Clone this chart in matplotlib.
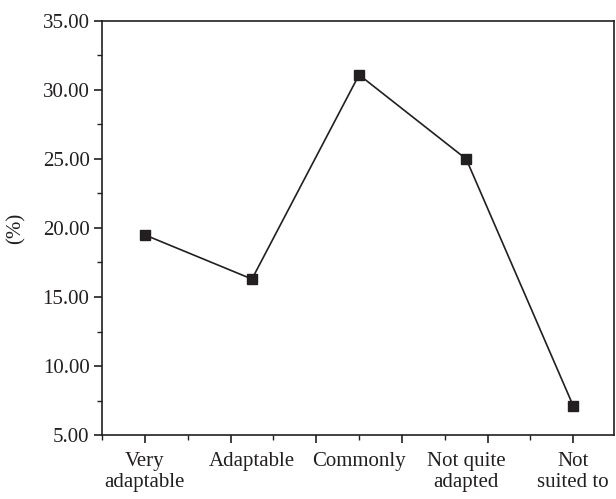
import matplotlib.pyplot as plt
from matplotlib.ticker import MultipleLocator, FormatStrFormatter
import matplotlib.transforms as mtransforms

categories = ['Very\nadaptable', 'Adaptable', 'Commonly', 'Not quite\nadapted', 'Not\nsuited to']
x_pos = [0, 1, 2, 3, 4]
percent = [19.5, 16.3, 31.1, 25.0, 7.1]

plt.rcParams['font.family'] = ['Liberation Serif', 'DejaVu Serif']
plt.rcParams['font.size'] = 15

fig = plt.figure(figsize=(6.16, 4.99), dpi=100)
ax = fig.add_axes([102/616, 1-435/499, (614-102)/616, (435-21)/499])

ax.plot(x_pos, percent, color='#231f20', lw=1.2, marker='s', ms=7,
        mfc='#231f20', mec='#231f20', zorder=3)

ax.set_ylim(5, 35)
ax.set_xlim(-0.4, 4.38)
ax.yaxis.set_major_locator(MultipleLocator(5))
ax.yaxis.set_minor_locator(MultipleLocator(2.5))
ax.yaxis.set_major_formatter(FormatStrFormatter('%.2f'))
ax.xaxis.set_major_locator(MultipleLocator(0.8))
ax.xaxis.set_minor_locator(MultipleLocator(0.4))
ax.set_xticklabels([])
ax.tick_params(which='major', direction='out', length=6, width=1.2, color='#231f20', labelcolor='#231f20')
ax.tick_params(which='minor', direction='out', length=3.5, width=1.0, color='#231f20')
ax.tick_params(axis='y', pad=3)
for s in ax.spines.values():
    s.set_linewidth(1.2)
    s.set_color('#231f20')

trans = mtransforms.blended_transform_factory(ax.transData, ax.transAxes)
for x, lab in zip(x_pos, categories):
    ax.text(x, -0.04, lab, transform=trans, ha='center', va='top',
            color='#231f20', linespacing=1.2)

ax.set_ylabel('(%)', color='#231f20', labelpad=12)

fig.savefig('out.png', dpi=100)
